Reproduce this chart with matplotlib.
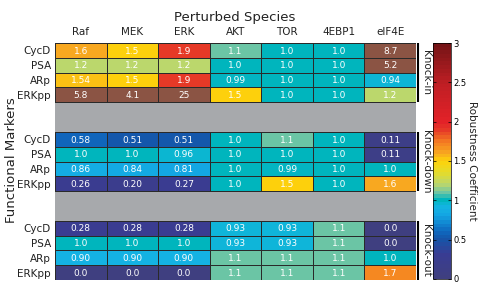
import numpy as np
import matplotlib
matplotlib.use("Agg")
import matplotlib.pyplot as plt
from matplotlib.colors import LinearSegmentedColormap, Normalize
from matplotlib.cm import ScalarMappable

species = ["Raf", "MEK", "ERK", "AKT", "TOR", "4EBP1", "eIF4E"]
markers = ["CycD", "PSA", "ARp", "ERKpp"]
sections = ["Knock-in", "Knock-down", "Knock-out"]

knock_in = [["1.6", "1.5", "1.9", "1.1", "1.0", "1.0", "8.7"],
            ["1.2", "1.2", "1.2", "1.0", "1.0", "1.0", "5.2"],
            ["1.54", "1.5", "1.9", "0.99", "1.0", "1.0", "0.94"],
            ["5.8", "4.1", "25", "1.5", "1.0", "1.0", "1.2"]]
knock_down = [["0.58", "0.51", "0.51", "1.0", "1.1", "1.0", "0.11"],
              ["1.0", "1.0", "0.96", "1.0", "1.0", "1.0", "0.11"],
              ["0.86", "0.84", "0.81", "1.0", "0.99", "1.0", "1.0"],
              ["0.26", "0.20", "0.27", "1.0", "1.5", "1.0", "1.6"]]
knock_out = [["0.28", "0.28", "0.28", "0.93", "0.93", "1.1", "0.0"],
             ["1.0", "1.0", "1.0", "0.93", "0.93", "1.1", "0.0"],
             ["0.90", "0.90", "0.90", "1.1", "1.1", "1.1", "1.0"],
             ["0.0", "0.0", "0.0", "1.1", "1.1", "1.1", "1.7"]]
section_data = [knock_in, knock_down, knock_out]

nodes = [(0.00, "#3f3f80"), (0.30, "#393c93"), (0.50, "#1456aa"), (0.60, "#0f6ac0"),
         (0.80, "#13a5e3"), (0.90, "#14b3e3"), (0.95, "#0cb6d2"), (1.00, "#00b5bd"),
         (1.10, "#72c6a3"), (1.20, "#bbd76c"), (1.35, "#e5dc2a"), (1.50, "#fdd20b"),
         (1.60, "#f8a820"), (1.75, "#f47b22"), (1.90, "#e63a27"), (2.00, "#e32228"),
         (2.50, "#bf1e24"), (3.00, "#751416")]
cmap = LinearSegmentedColormap.from_list("rob", [(v / 3.0, c) for v, c in nodes])
cmap.set_over("#8b5444")
norm = Normalize(0, 3)

fig = plt.figure(figsize=(4.78, 2.86), dpi=100)
ax = fig.add_axes([55 / 478, 1 - 280 / 286, 361 / 478, 237 / 286])
ax.set_facecolor("#a7a9ac")
ax.set_xlim(0, 7)
ax.set_ylim(16, 0)
for s in ax.spines.values():
    s.set_visible(False)

starts = [0, 6, 12]
ytick_pos, ytick_lab = [], []
for k, (y0, data) in enumerate(zip(starts, section_data)):
    vals = np.array([[float(v) for v in row] for row in data])
    xe = np.arange(8)
    ye = np.arange(y0, y0 + 5)
    ax.pcolormesh(xe, ye, vals, cmap=cmap, norm=norm, edgecolors="#2a2a2a", linewidth=0.6)
    for i, row in enumerate(data):
        for j, t in enumerate(row):
            ax.text(j + 0.5, y0 + i + 0.55, t, ha="center", va="center", color="white",
                    fontsize=6.5)
        ytick_pos.append(y0 + i + 0.5)
        ytick_lab.append(markers[i])
    ax.plot([7.04, 7.04], [y0, y0 + 4], color="black", lw=1.5, clip_on=False,
            solid_capstyle="butt")
    ax.text(7.09, y0 + 2, sections[k], rotation=270, ha="left", va="center", fontsize=7.5,
            color="#222222")

ax.set_yticks(ytick_pos)
ax.set_yticklabels(ytick_lab, fontsize=7.5, color="#222222")
ax.set_xticks(np.arange(7) + 0.5)
ax.set_xticklabels(species, fontsize=7.5, color="#222222")
ax.xaxis.tick_top()
ax.tick_params(length=0, pad=3)
ax.tick_params(axis="x", pad=4)

fig.text(235 / 478, 1 - 18 / 286, "Perturbed Species", ha="center", va="center",
         fontsize=9.5, color="#222222")
fig.text(12 / 478, 1 - 160 / 286, "Functional Markers", ha="center", va="center",
         rotation=90, fontsize=9.5, color="#222222")

cax = fig.add_axes([433 / 478, 1 - 279 / 286, 18 / 478, 236 / 286])
sm = ScalarMappable(norm=norm, cmap=cmap.resampled(64))
cb = fig.colorbar(sm, cax=cax)
cb.set_ticks([0, 0.5, 1, 1.5, 2, 2.5, 3])
cb.set_ticklabels(["0", "0.5", "1", "1.5", "2", "2.5", "3"])
cb.ax.tick_params(labelsize=6, length=2, direction="in", left=True, right=True, pad=1.5,
                  width=0.5)
cb.outline.set_linewidth(0.5)
fig.text(472 / 478, 1 - 161 / 286, "Robustness Coefficient", rotation=270, ha="center",
         va="center", fontsize=7.5, color="#222222")

fig.savefig("out.png", dpi=100)
